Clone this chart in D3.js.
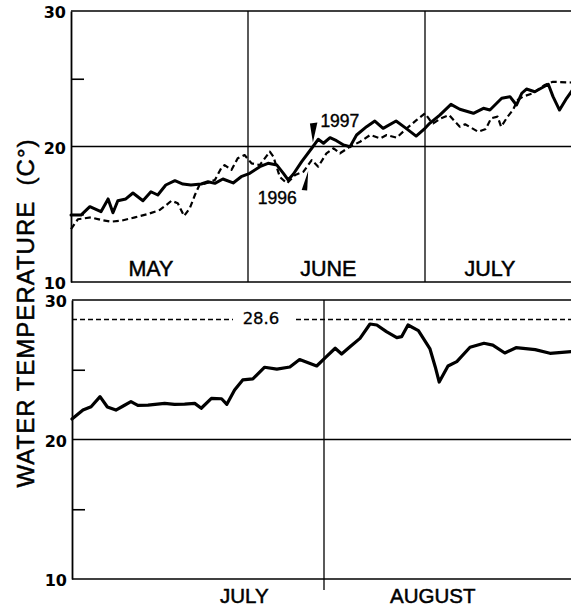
<!DOCTYPE html>
<html>
<head>
<meta charset="utf-8">
<script src="https://cdn.jsdelivr.net/npm/d3@7"></script>
<style>
  body { margin: 0; background: #fff; }
  svg { display: block; }
</style>
</head>
<body>
<svg id="chart" width="571" height="609"></svg>
<script>
// ---------------- data ----------------
// Upper panel: day 0 = 1 May
const days1997 = [0.0, 1.75, 3.3, 5.25, 6.5, 7.35, 8.2, 9.6, 10.85, 12.6, 14.0, 15.2, 16.6, 18.2, 19.6, 21.0, 22.8, 24.0, 25.2, 26.6, 28.4, 29.8,
  31.3, 33.0, 34.4, 35.9, 37.0, 37.8, 38.7, 40.1, 41.8, 42.9, 43.8, 44.9, 46.0, 47.2, 48.3, 49.4, 51.1, 52.5, 53.9, 56.1, 57.8, 59.5,
  61.0, 61.8, 63.5, 65.4, 66.9, 69.2, 70.9, 72.0, 74.0, 75.4, 76.5, 77.4, 78.2, 79.6, 81.9, 82.7, 83.8, 85.0, 86.0];
const temps1997 = [14.94, 14.94, 15.56, 15.19, 16.13, 15.11, 16.0, 16.13, 16.57, 16.0, 16.66, 16.42, 17.16, 17.48, 17.23, 17.16, 17.23, 17.40, 17.28, 17.60, 17.31, 17.77,
  18.02, 18.51, 18.76, 18.63, 18.02, 17.53, 17.97, 18.88, 19.87, 20.53, 20.24, 20.65, 20.43, 20.11, 19.99, 20.85, 21.46, 21.88, 21.34, 21.88, 21.34, 20.77,
  21.34, 21.71, 22.32, 23.11, 22.75, 22.45, 22.82, 22.69, 23.56, 23.68, 23.06, 23.93, 24.24, 24.04, 24.59, 23.68, 22.69, 23.56, 24.17];

const days1996 = [0.0, 1.2, 3.5, 5.25, 7.0, 8.75, 11.2, 13.5, 15.5, 16.7, 17.6, 18.7, 19.8, 20.8, 21.7, 22.5, 24.0, 25.2, 26.3, 26.9, 28.1, 29.2, 30.4,
  31.6, 33.0, 34.7, 35.3, 36.4, 37.6, 39.0, 40.4, 41.8, 42.9, 44.3, 45.5, 46.6, 48.3, 50.0, 51.7, 53.4, 54.5, 56.2, 57.9, 59.6,
  61.0, 61.8, 62.4, 63.7, 65.1, 66.1, 66.9, 67.8, 70.0, 71.3, 72.2, 73.3, 73.9, 75.0, 75.9, 76.7, 77.6, 79.3, 81.3, 82.7, 86.0];
const temps1996 = [13.91, 14.63, 14.77, 14.58, 14.45, 14.52, 14.77, 15.02, 15.31, 15.68, 16.0, 15.81, 14.87, 15.44, 16.42, 17.16, 17.33, 17.53, 18.39, 18.63, 18.27, 19.13, 19.37,
  18.76, 18.63, 19.62, 19.25, 17.75, 17.28, 17.90, 18.14, 19.0, 18.51, 19.50, 19.87, 19.50, 19.99, 20.35, 20.85, 20.60, 20.85, 20.65, 21.34, 21.96,
  22.45, 21.96, 21.71, 22.08, 22.32, 21.83, 21.46, 21.64, 21.09, 21.29, 22.08, 22.20, 21.46, 22.20, 22.69, 23.43, 23.68, 23.93, 24.54, 24.78, 24.72];

// Lower panel: day 0 = 1 July
const daysLower = [0.0, 1.35, 2.35, 3.45, 4.35, 5.4, 6.3, 7.25, 8.1, 9.35, 11.4, 12.6, 13.85, 15.1, 15.9, 17.15, 18.4, 19.05, 20.0, 21.0, 22.25, 23.7, 25.2, 26.8, 28.0, 30.1,
  31.3, 32.4, 33.2, 34.25, 35.5, 36.75, 37.6, 38.8, 40.1, 40.7, 41.5, 42.8, 44.25, 44.9, 45.4, 46.5, 47.6, 49.25, 51.0, 52.1, 53.6, 55.0, 57.4, 59.25, 62.0];
const tempsLower = [21.47, 22.11, 22.35, 23.07, 22.33, 22.11, 22.40, 22.71, 22.44, 22.47, 22.59, 22.52, 22.54, 22.59, 22.24, 22.95, 22.92, 22.52, 23.55, 24.27, 24.34, 25.18, 25.05, 25.20, 25.73, 25.27,
  25.94, 26.54, 26.13, 26.65, 27.25, 28.28, 28.21, 27.73, 27.30, 27.37, 28.21, 27.81, 26.49, 25.22, 24.12, 25.27, 25.58, 26.61, 26.90, 26.77, 26.20, 26.58, 26.44, 26.18, 26.31];

const upperMonths = ["MAY", "JUNE", "JULY"];
const upperMonthStarts = [0, 31, 61];
const lowerMonths = ["JULY", "AUGUST"];
const lowerMonthStarts = [0, 31];
const yTickLabels = [10, 20, 30];
const yMinorTicks = [15, 25];
const threshold = 28.6;

// ---------------- layout ----------------
const W = 571, H = 609;
const svg = d3.select("#chart");
const SANS = "'Liberation Sans', Arial, Helvetica, sans-serif";
const TICKFONT = "'DejaVu Sans', sans-serif";

const xU = d3.scaleLinear().domain([0, 31, 61, 86]).range([71, 248, 425, 572.5]);
const yU = d3.scaleLinear().domain([10, 30]).range([282, 11]);
const xL = d3.scaleLinear().domain([0, 31, 62]).range([72, 324, 572]);
const yL = d3.scaleLinear().domain([10, 30]).range([579, 300]);

// heavier printed-text look
function ink(sel, w) {
  return sel.attr("stroke", "#000").attr("stroke-width", w).attr("paint-order", "stroke");
}

function panel(x, y, monthStarts, months, labelDays, labelY, labelSize, sepExtend) {
  const g = svg.append("g");
  const x0 = x.range()[0];
  // frame top / bottom
  [30, 10].forEach(v => {
    g.append("line").attr("x1", x0).attr("x2", W).attr("y1", y(v)).attr("y2", y(v))
      .attr("stroke", "#000").attr("stroke-width", 1.6);
  });
  // 20-degree rule
  g.append("line").attr("x1", x0).attr("x2", W).attr("y1", y(20)).attr("y2", y(20))
    .attr("stroke", "#000").attr("stroke-width", 1.3);
  // month separators
  monthStarts.slice(1).forEach(d => {
    g.append("line").attr("x1", x(d)).attr("x2", x(d)).attr("y1", y(30)).attr("y2", y(10) + sepExtend)
      .attr("stroke", "#000").attr("stroke-width", 1.3);
  });
  // left axis with labels
  const ax = g.append("g").attr("transform", `translate(${x0},0)`)
    .call(d3.axisLeft(y).tickValues(yTickLabels).tickSize(0).tickSizeOuter(0).tickPadding(5));
  ax.select(".domain").attr("stroke-width", 1.8);
  ax.selectAll("text").attr("font-family", TICKFONT).attr("font-weight", "bold")
    .attr("font-size", 16).attr("fill", "#000").attr("dy", "0.42em");
  // inner minor ticks
  const mx = g.append("g").attr("transform", `translate(${x0},0)`)
    .call(d3.axisRight(y).tickValues(yMinorTicks).tickSize(13).tickSizeOuter(0).tickFormat(""));
  mx.select(".domain").remove();
  mx.selectAll("line").attr("stroke-width", 1.6);
  // month names
  months.forEach((m, i) => {
    ink(g.append("text").attr("x", x(labelDays[i])).attr("y", labelY)
      .attr("text-anchor", "middle").attr("font-family", SANS).attr("font-size", labelSize)
      .attr("fill", "#000").text(m), 0.5);
  });
  return g;
}

const gU = panel(xU, yU, upperMonthStarts, upperMonths, [14.0, 44.6, 72.0], 276, 21.5, 0);
const gL = panel(xL, yL, lowerMonthStarts, lowerMonths, [21.2, 44.6], 603, 20.5, 11);

// ---------------- series ----------------
const lineU = d3.line().x(d => xU(d[0])).y(d => yU(d[1]));
const lineL = d3.line().x(d => xL(d[0])).y(d => yL(d[1]));

gU.append("path").datum(d3.zip(days1996, temps1996)).attr("d", lineU)
  .attr("fill", "none").attr("stroke", "#000").attr("stroke-width", 2.2)
  .attr("stroke-dasharray", "6,3.5").attr("stroke-linejoin", "round");
gU.append("path").datum(d3.zip(days1997, temps1997)).attr("d", lineU)
  .attr("fill", "none").attr("stroke", "#000").attr("stroke-width", 3)
  .attr("stroke-linejoin", "round").attr("stroke-linecap", "round");

gL.append("path").datum(d3.zip(daysLower, tempsLower)).attr("d", lineL)
  .attr("fill", "none").attr("stroke", "#000").attr("stroke-width", 3.2)
  .attr("stroke-linejoin", "round").attr("stroke-linecap", "round");

// ---------------- annotations ----------------
// 1997 pointer (tip on the solid line, pointing down)
const tip97 = [xU(42.0), yU(20.3)];
gU.append("path")
  .attr("d", `M${tip97[0]},${tip97[1]} L${tip97[0] - 3},${tip97[1] - 19} L${tip97[0] + 4.5},${tip97[1] - 20} Z`)
  .attr("fill", "#000");
ink(gU.append("text").attr("x", tip97[0] + 7.5).attr("y", tip97[1] - 15)
  .attr("font-family", SANS).attr("font-size", 17.5).attr("fill", "#000").text("1997"), 0.4);

// 1996 pointer (tip on the dashed line, pointing up)
const tip96 = [xU(41.2), yU(18.2)];
gU.append("path")
  .attr("d", `M${tip96[0]},${tip96[1]} L${tip96[0] - 6.5},${tip96[1] + 19} L${tip96[0] - 1},${tip96[1] + 19.5} Z`)
  .attr("fill", "#000");
ink(gU.append("text").attr("x", tip96[0] - 31).attr("y", tip96[1] + 33)
  .attr("text-anchor", "middle").attr("font-family", SANS).attr("font-size", 17.5)
  .attr("fill", "#000").text("1996"), 0.4);

// threshold line in the lower panel
const labelX = 261;
const ty = yL(threshold);
[[xL.range()[0], labelX - 28], [labelX + 35, W]].forEach(([a, b]) => {
  gL.append("line").attr("x1", a).attr("x2", b).attr("y1", ty).attr("y2", ty)
    .attr("stroke", "#000").attr("stroke-width", 1.5).attr("stroke-dasharray", "5,3");
});
ink(gL.append("text").attr("x", labelX).attr("y", ty + 4.5).attr("text-anchor", "middle")
  .attr("font-family", TICKFONT).attr("font-size", 16.5).attr("fill", "#000").text(String(threshold)), 0.3);

// shared y-axis title
ink(svg.append("text")
  .attr("transform", "translate(33.5,313) rotate(-90)")
  .attr("text-anchor", "middle").attr("font-family", SANS).attr("font-size", 24)
  .attr("letter-spacing", 1).style("white-space", "pre").attr("fill", "#000")
  .text("WATER TEMPERATURE  (C°)"), 0.5);
</script>
</body>
</html>
